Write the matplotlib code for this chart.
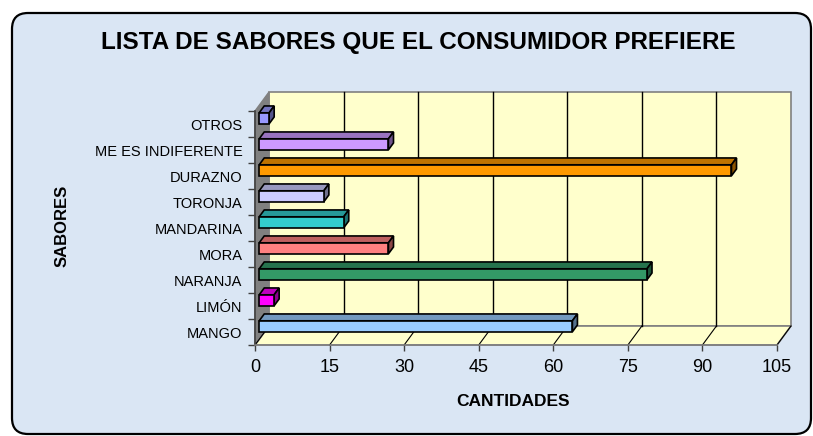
import matplotlib
matplotlib.use("Agg")
import matplotlib.pyplot as plt
from matplotlib.patches import FancyBboxPatch, Polygon
import numpy as np

# ---- data ----
categories = ["MANGO", "LIMÓN", "NARANJA", "MORA", "MANDARINA",
              "TORONJA", "DURAZNO", "ME ES INDIFERENTE", "OTROS"]
values = [63, 3, 78, 26, 17, 13, 95, 26, 2]
bar_colors = ["#99ccff", "#ff00ff", "#339966", "#ff8080", "#33cccc",
              "#ccccff", "#ff9900", "#cc99ff", "#9999ff"]
x_ticks = [0, 15, 30, 45, 60, 75, 90, 105]
title = "LISTA DE SABORES QUE EL CONSUMIDOR PREFIERE"
x_title = "CANTIDADES"
y_title = "SABORES"

plt.rcParams['font.family'] = ['Liberation Sans', 'DejaVu Sans']

W, H = 813, 436
fig = plt.figure(figsize=(W / 100, H / 100), dpi=100)
fig.patch.set_facecolor("white")

# background panel with rounded border
bg = fig.add_axes([0, 0, 1, 1])
bg.set_xlim(0, W)
bg.set_ylim(H, 0)
bg.axis("off")
bg.add_patch(FancyBboxPatch((12, 13), 799, 421,
                            boxstyle="round,pad=0,rounding_size=16",
                            fc="#dae6f4", ec="black", lw=1.6))

# front plane of the 3D plot
x0, x1 = 255, 777
yb, yt = 345, 111
ax = fig.add_axes([x0 / W, (H - yb) / H, (x1 - x0) / W, (yb - yt) / H])
ax.set_facecolor("none")
xmax = 105
ax.set_xlim(0, xmax)
ax.set_ylim(-0.5, len(categories) - 0.5)
for s in ax.spines.values():
    s.set_visible(False)

sx = (x1 - x0) / xmax
sy = (yb - yt) / len(categories)
Dx, Dy = 14 / sx, 19 / sy  # depth vector in data units
ylo, yhi = -0.5, len(categories) - 0.5

wall = "#ffffcc"
edge_gray = "#808080"

# back wall
ax.add_patch(Polygon([(Dx, ylo + Dy), (xmax + Dx, ylo + Dy), (xmax + Dx, yhi + Dy), (Dx, yhi + Dy)],
                     closed=True, fc=wall, ec=edge_gray, lw=1.2, clip_on=False, zorder=1))
# floor
ax.add_patch(Polygon([(0, ylo), (xmax, ylo), (xmax + Dx, ylo + Dy), (Dx, ylo + Dy)],
                     closed=True, fc=wall, ec=edge_gray, lw=1.2, clip_on=False, zorder=1))
# left side wall
ax.add_patch(Polygon([(0, ylo), (0, yhi), (Dx, yhi + Dy), (Dx, ylo + Dy)],
                     closed=True, fc="#808080", ec=edge_gray, lw=1.0, clip_on=False, zorder=1))
# gridlines on back wall and floor
for t in x_ticks[1:-1]:
    ax.plot([t + Dx, t + Dx], [ylo + Dy, yhi + Dy], color="black", lw=1.0, clip_on=False, zorder=2)
for t in x_ticks:
    ax.plot([t, t + Dx], [ylo, ylo + Dy], color="black", lw=0.8, clip_on=False, zorder=2)
# front axis lines
ax.plot([0, 0], [ylo, yhi], color="#404040", lw=1.2, clip_on=False, zorder=2)
ax.plot([0, xmax], [ylo, ylo], color=edge_gray, lw=1.2, clip_on=False, zorder=2)

# bars (3D look)
f0, f1 = 0.30, 0.66
bh = 11 / sy
ypos = np.arange(len(categories))
ax.barh(ypos + f0 * Dy, values, left=f0 * Dx, height=bh, color=bar_colors,
        edgecolor="black", linewidth=1.2, zorder=5, clip_on=False)
for i, (v, c) in enumerate(zip(values, bar_colors)):
    rgb = np.array(matplotlib.colors.to_rgb(c))
    top_c = rgb * 0.75
    side_c = rgb * 0.55
    bx0 = f0 * Dx
    by = i + f0 * Dy
    ytop = by + bh / 2
    ybot = by - bh / 2
    ddx, ddy = (f1 - f0) * Dx, (f1 - f0) * Dy
    ax.add_patch(Polygon([(bx0, ytop), (bx0 + v, ytop), (bx0 + v + ddx, ytop + ddy), (bx0 + ddx, ytop + ddy)],
                         closed=True, fc=top_c, ec="black", lw=1.2, zorder=4, clip_on=False))
    ax.add_patch(Polygon([(bx0 + v, ybot), (bx0 + v, ytop), (bx0 + v + ddx, ytop + ddy), (bx0 + v + ddx, ybot + ddy)],
                         closed=True, fc=side_c, ec="black", lw=1.2, zorder=4, clip_on=False))

# ticks & labels
ax.set_xticks(x_ticks)
ax.set_xticklabels([str(t) for t in x_ticks], fontsize=13)
ax.tick_params(axis="x", length=4, width=1, color="#404040", pad=6)
ax.set_yticks(ypos)
ax.set_yticklabels(categories, fontsize=10.5)
ax.set_yticks(np.arange(-0.5, len(categories) + 0.5, 1), minor=True)
ax.tick_params(axis="y", which="major", length=0, pad=9)
ax.tick_params(axis="y", which="minor", length=5, width=1, color="#404040")

fig.text(418 / W, 1 - 42 / H, title, ha="center", va="center",
         fontsize=17.5, fontweight="bold")
fig.text(513 / W, 1 - 401 / H, x_title, ha="center", va="center",
         fontsize=12.5, fontweight="bold")
fig.text(62 / W, 1 - 226 / H, y_title, ha="center", va="center",
         fontsize=12, fontweight="bold", rotation=90)

fig.savefig("out.png", dpi=100, facecolor="white")
